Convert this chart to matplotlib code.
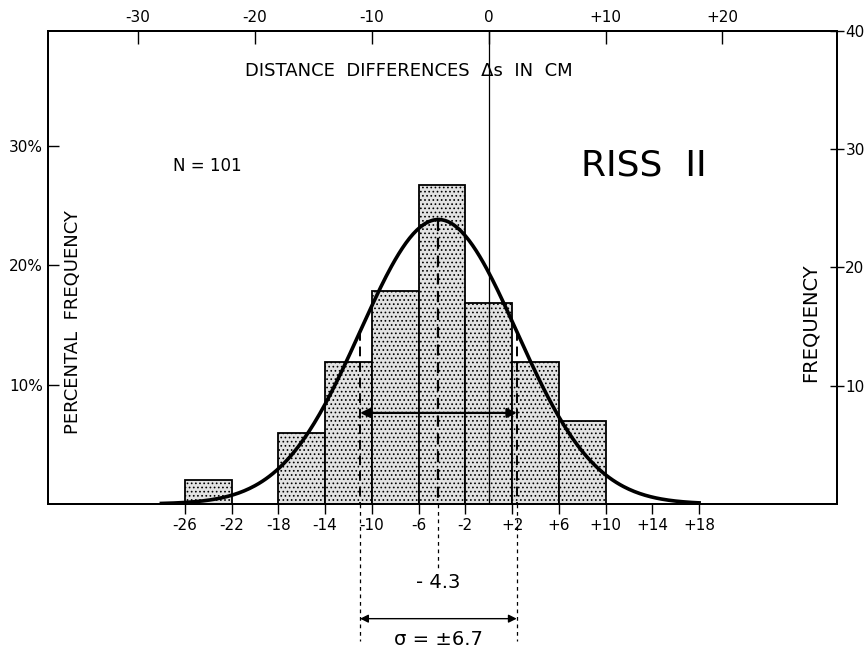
import numpy as np
import matplotlib
matplotlib.use('Agg')
import matplotlib.pyplot as plt

# histogram of distance differences (cm), bin width 4
bin_edges = [-26, -22, -18, -14, -10, -6, -2, 2, 6, 10]
counts = [2, 0, 6, 12, 18, 27, 17, 12, 7]
n_total = 101
mean_ds = -4.3
sigma_ds = 6.7

edge_ticks = [-26, -22, -18, -14, -10, -6, -2, 2, 6, 10, 14, 18]
edge_labels = ['-26', '-22', '-18', '-14', '-10', '-6', '-2', '+2', '+6', '+10', '+14', '+18']
top_ticks = [-30, -20, -10, 0, 10, 20]
top_labels = ['-30', '-20', '-10', '0', '+10', '+20']
pct_ticks = [10, 20, 30]
freq_ticks = [10, 20, 30, 40]

plt.rcParams['font.family'] = 'DejaVu Sans'
plt.rcParams['hatch.color'] = '#444444'
plt.rcParams['hatch.linewidth'] = 0.7

fig = plt.figure(figsize=(8.67, 6.54), dpi=100)
ax = fig.add_axes([0.0554, 0.2294, 0.91, 0.7232])
ax.set_xlim(-37.7, 29.8)
ax.set_ylim(0, 40)

# bars
lefts = bin_edges[:-1]
widths = np.diff(bin_edges)
for l, w, c in zip(lefts, widths, counts):
    if c > 0:
        ax.bar(l, c, width=w, align='edge', facecolor='#e2e2e2', edgecolor='black',
               linewidth=1.3, hatch='....', zorder=2)

# normal curve
xs = np.linspace(-28, 18, 300)
peak = n_total * 4 / (sigma_ds * np.sqrt(2 * np.pi))
ys = peak * np.exp(-0.5 * ((xs - mean_ds) / sigma_ds) ** 2)
ax.plot(xs, ys, color='black', lw=2.6, zorder=4)

# zero line
ax.plot([0, 0], [0, 40], color='black', lw=0.9, zorder=3)

# mean and sigma dashed lines
ax.plot([mean_ds, mean_ds], [peak, 0], color='black', lw=1.6, ls=(0, (5, 3)), zorder=5)
ax.plot([mean_ds, mean_ds], [0, -5.7], color='black', lw=0.9, ls=(0, (3, 3)),
        zorder=5, clip_on=False)
for xv in [mean_ds - sigma_ds, mean_ds + sigma_ds]:
    hv = peak * np.exp(-0.5)
    ax.plot([xv, xv], [hv, 0], color='black', lw=1.4, ls=(0, (5, 3)), zorder=5)
    ax.plot([xv, xv], [0, -11.6], color='black', lw=0.9, ls=(0, (3, 3)),
            zorder=5, clip_on=False)

# arrows
ax.annotate('', xy=(mean_ds - sigma_ds, 7.7), xytext=(mean_ds + sigma_ds, 7.7),
            arrowprops=dict(arrowstyle='<|-|>', color='black', lw=1.6,
                            mutation_scale=14, shrinkA=0, shrinkB=0), zorder=6)
ax.annotate('', xy=(mean_ds - sigma_ds, -9.7), xytext=(mean_ds + sigma_ds, -9.7),
            xycoords='data', annotation_clip=False,
            arrowprops=dict(arrowstyle='<|-|>', color='black', lw=1.0,
                            mutation_scale=12, shrinkA=0, shrinkB=0))
ax.text(mean_ds, -6.6, '- 4.3', ha='center', va='center', fontsize=14, clip_on=False)
ax.text(mean_ds, -11.5, 'σ = ±6.7', ha='center', va='center', fontsize=14, clip_on=False)

# texts
ax.text(-6.8, 36.6, 'DISTANCE  DIFFERENCES  Δs  IN  CM', ha='center', va='center', fontsize=13)
ax.text(-24.1, 28.6, 'N = 101', ha='center', va='center', fontsize=12)
ax.text(13.3, 28.6, 'RISS  II', ha='center', va='center', fontsize=26)
ax.text(-35.6, 15.4, 'PERCENTAL  FREQUENCY', rotation=90, ha='center', va='center', fontsize=13)
ax.text(27.5, 15.3, 'FREQUENCY', rotation=90, ha='center', va='center', fontsize=14)

# bottom ticks at bin edges
ax.set_xticks(edge_ticks)
ax.set_xticklabels(edge_labels, fontsize=11)
ax.tick_params(axis='x', direction='out', length=7, width=1.0, pad=3)

# left: percent
ax.set_yticks([p * n_total / 100 for p in pct_ticks])
ax.set_yticklabels([f'{p}%' for p in pct_ticks], fontsize=11)
ax.tick_params(axis='y', direction='in', length=8, width=1.0)

# right: frequency
axr = ax.twinx()
axr.set_ylim(0, 40)
axr.set_yticks(freq_ticks)
axr.set_yticklabels([str(f) for f in freq_ticks], fontsize=11)
axr.tick_params(axis='y', direction='inout', length=10, width=1.0, pad=1)

# top: cm scale
axt = ax.twiny()
axt.set_xlim(ax.get_xlim())
axt.set_xticks(top_ticks)
axt.set_xticklabels(top_labels, fontsize=11)
axt.tick_params(axis='x', direction='in', length=9, width=1.0, pad=4)

for a in (ax, axr, axt):
    for s in a.spines.values():
        s.set_linewidth(1.3)

fig.savefig('out.png', dpi=100)
